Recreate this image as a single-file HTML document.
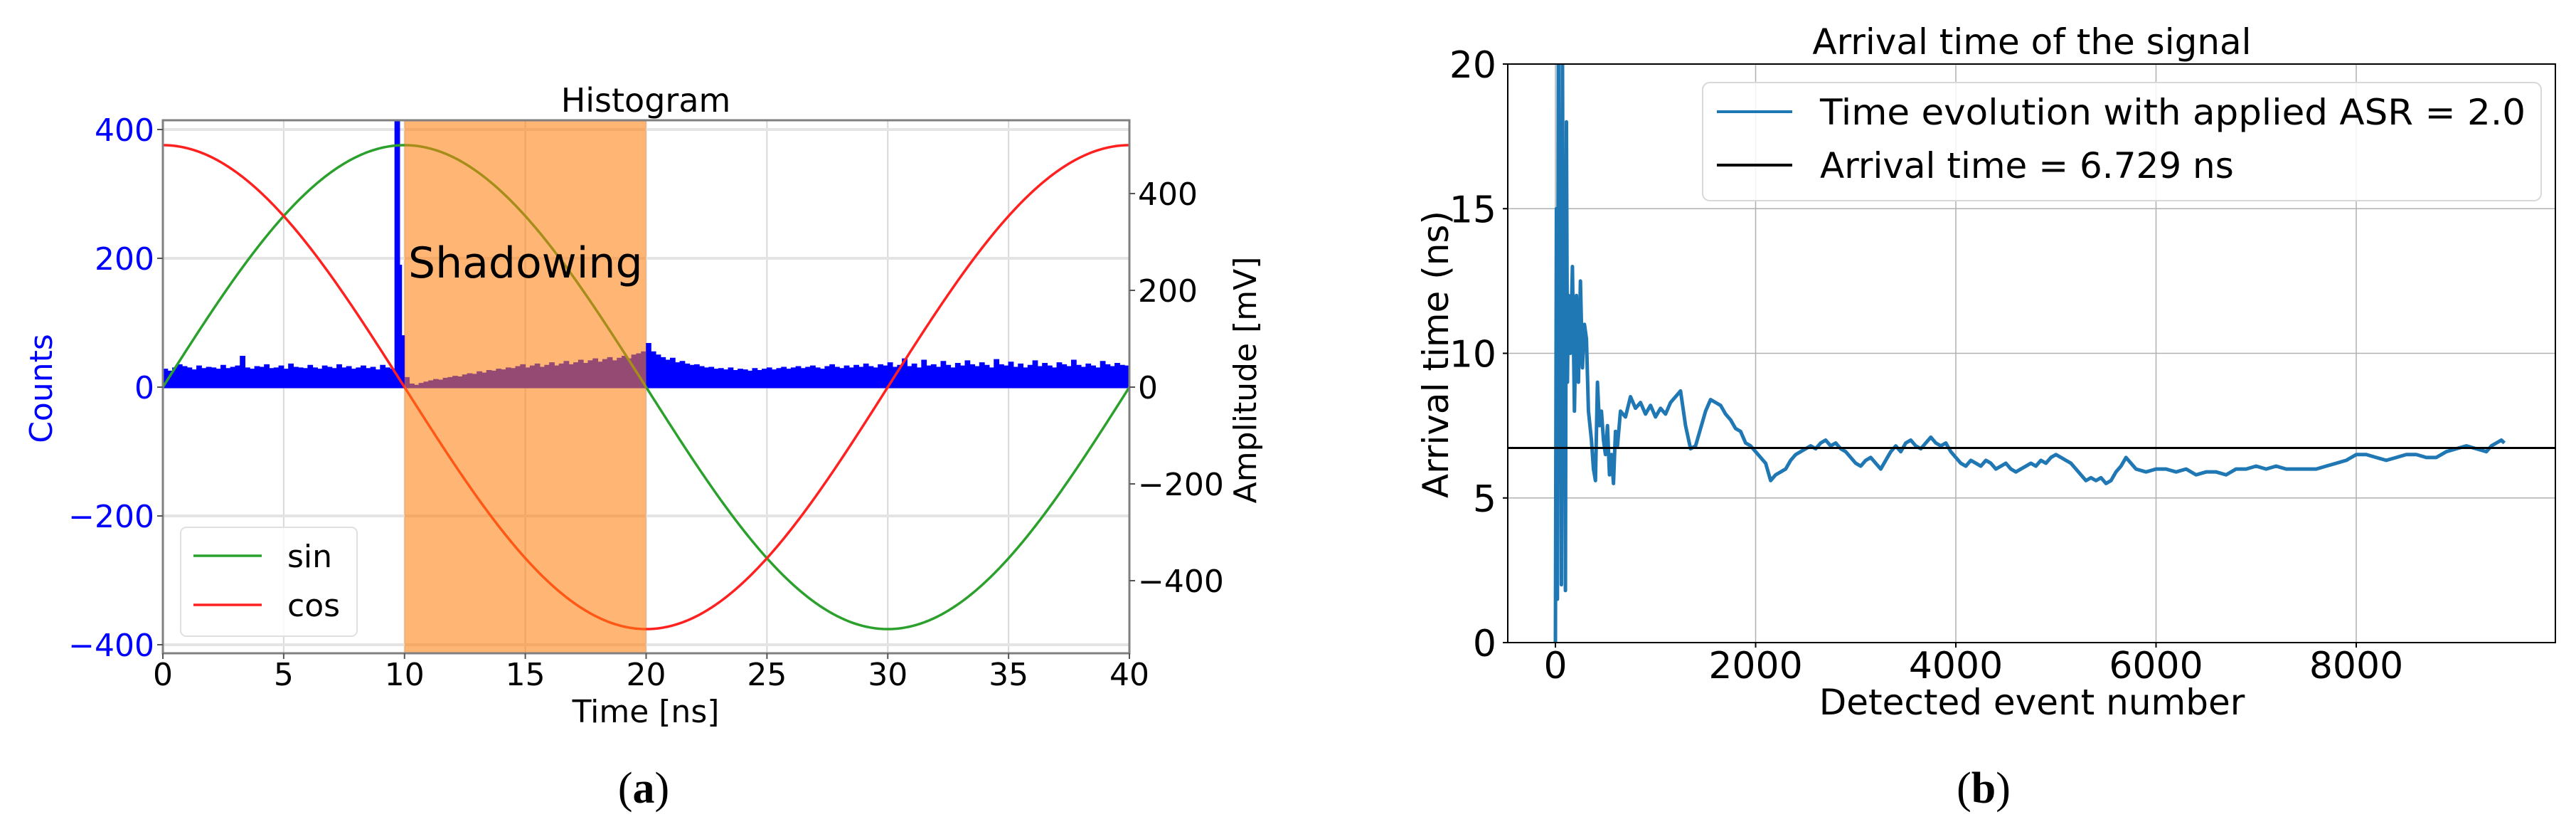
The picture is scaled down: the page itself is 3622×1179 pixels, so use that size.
<!DOCTYPE html>
<html><head><meta charset="utf-8">
<style>
html,body{margin:0;padding:0;background:#fff;}
svg{display:block;}
text{font-family:"DejaVu Sans","Liberation Sans",sans-serif;}
</style></head>
<body>
<svg id="fig" width="3622" height="1179" viewBox="0 0 3622 1179" xmlns="http://www.w3.org/2000/svg">
<defs>
<clipPath id="clipA"><rect x="229" y="169" width="1359" height="749"/></clipPath>
<clipPath id="clipB"><rect x="2120" y="90" width="1473" height="813"/></clipPath>
</defs>
<g id="panelA"></g>
<g id="panelB"></g>
</svg>
<script>
// ---- Panel (a) data ----
const histBinWidth = 0.2;
const histCounts = [28,25,30,35,32,30,27,33,29,31,
30,28,34,29,31,33,48,30,28,32,
31,35,29,30,33,28,36,31,30,29,
34,30,28,33,31,29,35,30,32,28,
30,33,29,31,27,34,30,28,420,80,
15,5,3,6,8,10,12,11,14,15,
17,16,19,21,20,24,22,26,25,28,
27,30,29,32,35,30,33,36,31,34,
38,33,36,40,35,38,42,37,41,44,
39,43,46,41,45,48,44,50,52,55,
68,55,50,46,42,45,38,40,36,34,
35,32,30,31,28,29,27,30,26,28,
27,25,29,26,28,30,27,29,31,28,
30,32,29,31,33,30,28,32,35,31,
29,33,30,34,31,36,32,30,35,33,
38,31,34,44,32,36,30,42,33,35,
31,40,34,30,37,33,41,35,32,38,
34,30,43,35,33,39,31,36,30,34,
41,32,37,33,30,38,35,32,42,34,
31,36,33,30,40,35,32,37,34,33];
const spikeTimes = [9.75];
const spikeCounts = [190];
const sineAmplitudeMv = [500];
const shadowRegion = [10, 20];
const xTicksA = [0,5,10,15,20,25,30,35,40];
const countTicks = [400,200,0,-200,-400];
const mvTicks = [400,200,0,-200,-400];

// ---- Panel (b) data ----
const eventNumbers = [0,10,20,30,40,50,60,70,80,90,100,110,120,130,150,170,190,210,230,250,270,290,310,330,360,380,400,420,440,460,480,500,520,540,560,580,600,620,650,700,750,800,850,900,950,1000,1050,1100,1150,1200,1250,1300,1350,1400,1450,1500,1550,1600,1650,1700,1750,1800,1850,1900,1950,2000,2050,2100,2150,2200,2250,2300,2350,2400,2450,2500,2550,2600,2650,2700,2750,2800,2850,2900,2950,3000,3050,3100,3150,3200,3250,3300,3350,3400,3450,3500,3550,3600,3650,3700,3750,3800,3850,3900,3950,4000,4050,4100,4150,4200,4250,4300,4350,4400,4450,4500,4550,4600,4650,4700,4750,4800,4850,4900,4950,5000,5050,5100,5150,5200,5250,5300,5350,5400,5450,5500,5550,5600,5650,5700,5750,5800,5900,6000,6100,6200,6300,6400,6500,6600,6700,6800,6900,7000,7100,7200,7300,7400,7500,7600,7700,7800,7900,8000,8100,8200,8300,8400,8500,8600,8700,8800,8900,9000,9100,9200,9300,9350,9400,9450,9480];
const arrivalTimes = [0,15,1.5,22,8,17,2,21,9,14,1.8,18,9,12,10,13,8,12,9,12.5,9.5,11,10.5,8,7,6,5.6,9,7.5,8,7,6.5,7.5,5.8,6.5,5.5,7.3,6.8,8,7.8,8.5,8.1,8.3,7.9,8.2,7.8,8.1,7.9,8.3,8.5,8.7,7.5,6.7,6.8,7.4,8.0,8.4,8.3,8.2,7.9,7.7,7.4,7.3,6.9,6.8,6.6,6.4,6.2,5.6,5.8,5.9,6.0,6.3,6.5,6.6,6.7,6.8,6.7,6.9,7.0,6.8,6.9,6.7,6.6,6.4,6.2,6.1,6.3,6.4,6.2,6.0,6.3,6.6,6.8,6.6,6.9,7.0,6.8,6.7,6.9,7.1,6.9,6.8,6.9,6.6,6.4,6.2,6.1,6.3,6.2,6.1,6.3,6.2,6.0,6.1,6.2,6.0,5.9,6.0,6.1,6.2,6.1,6.3,6.2,6.4,6.5,6.4,6.3,6.2,6.0,5.8,5.6,5.7,5.6,5.7,5.5,5.6,5.9,6.1,6.4,6.2,6.0,5.9,6.0,6.0,5.9,6.0,5.8,5.9,5.9,5.8,6.0,6.0,6.1,6.0,6.1,6.0,6.0,6.0,6.0,6.1,6.2,6.3,6.5,6.5,6.4,6.3,6.4,6.5,6.5,6.4,6.4,6.6,6.7,6.8,6.7,6.6,6.8,6.9,7.0,6.9];
const arrivalTimeMean = [6.729];
const xTicksB = [0,2000,4000,6000,8000];
const yTicksB = [0,5,10,15,20];

const NS = 'http://www.w3.org/2000/svg';
function mk(parent, tag, attrs, txt){
  const e = document.createElementNS(NS, tag);
  for (const k in attrs) e.setAttribute(k, attrs[k]);
  if (txt !== undefined) e.textContent = txt;
  parent.appendChild(e);
  return e;
}

// ===== Panel A =====
const A = document.getElementById('panelA');
const axL=229, axR=1588, axT=169, axB=918;
const xA = t => axL + (t-0)/(40-0)*(axR-axL);
const yC = c => 544 - c*0.905;
const yV = v => 544 - v*0.68;

// grid
for (const t of xTicksA){
  const g = mk(A,'line',{x1:xA(t),x2:xA(t),y1:axT,y2:axB,stroke:'#d8d8d8','stroke-width':2});
  
  
}
for (const c of countTicks){
  const g = mk(A,'line',{x1:axL,x2:axR,y1:yC(c),y2:yC(c),stroke:'#e4e4e4','stroke-width':4});
  
  
}
const gA = mk(A,'g',{'clip-path':'url(#clipA)'});


// histogram
let d = 'M'+xA(0)+','+yC(0);
histCounts.forEach((c,i)=>{
  const t0=i*histBinWidth, t1=(i+1)*histBinWidth;
  d += ' L'+xA(t0)+','+yC(c)+' L'+xA(t1)+','+yC(c);
});
d += ' L'+xA(histCounts.length*histBinWidth)+','+yC(0)+' Z';
const hist = mk(gA,'path',{d:d,fill:'#0000ff',stroke:'#0000ff','stroke-width':1});


spikeTimes.forEach((t,i)=>{
  const s = mk(gA,'rect',{x:xA(t),y:yC(spikeCounts[i]),width:5,height:yC(0)-yC(spikeCounts[i]),fill:'#0000ff'});
  
  
});
mk(gA,'line',{x1:axL,x2:axR,y1:yC(0),y2:yC(0),stroke:'#0000ff','stroke-width':3});
// sin cos
let ds='', dc='';
for (let i=0;i<=400;i++){
  const t=i*0.1, ph=2*Math.PI*t/40;
  ds += (i?'L':'M')+xA(t)+','+yV(sineAmplitudeMv[0]*Math.sin(ph))+' ';
  dc += (i?'L':'M')+xA(t)+','+yV(sineAmplitudeMv[0]*Math.cos(ph))+' ';
}
const sinL = mk(gA,'path',{d:ds,fill:'none',stroke:'#2ca02c','stroke-width':3.5});


const cosL = mk(gA,'path',{d:dc,fill:'none',stroke:'#ff2020','stroke-width':3.5});


// shadow
const sh = mk(A,'rect',{x:xA(shadowRegion[0]),y:axT,width:xA(shadowRegion[1])-xA(shadowRegion[0]),height:axB-axT,fill:'rgb(255,127,14)','fill-opacity':0.58});


const shT = mk(A,'text',{x:574,y:390,'font-size':60,fill:'#000'},'Shadowing');


// spines
const frA = mk(A,'rect',{x:axL,y:axT,width:axR-axL,height:axB-axT,fill:'none',stroke:'#808080','stroke-width':3});


// ticks
for (const t of xTicksA){
  mk(A,'line',{x1:xA(t),x2:xA(t),y1:axB,y2:axB+8,stroke:'#555','stroke-width':2});
  const l = mk(A,'text',{x:xA(t),y:963,'font-size':44,'text-anchor':'middle',fill:'#000'},String(t));
  
  
}
for (const c of countTicks){
  mk(A,'line',{x1:axL-8,x2:axL,y1:yC(c),y2:yC(c),stroke:'#555','stroke-width':2});
  const l = mk(A,'text',{x:217,y:yC(c)+16,'font-size':44,'text-anchor':'end',fill:'#0000ff'},String(c).replace('-','\u2212'));
  
  
}
for (const v of mvTicks){
  mk(A,'line',{x1:axR,x2:axR+8,y1:yV(v),y2:yV(v),stroke:'#555','stroke-width':2});
  const l = mk(A,'text',{x:1600,y:yV(v)+16,'font-size':44,'text-anchor':'start',fill:'#000'},String(v).replace('-','\u2212'));
  
  
}
const tA = mk(A,'text',{x:908,y:157,'font-size':46,'text-anchor':'middle'},'Histogram');


const xlA = mk(A,'text',{x:908,y:1015,'font-size':44,'text-anchor':'middle'},'Time [ns]');


const ylA = mk(A,'text',{x:0,y:0,'font-size':44,'text-anchor':'middle',fill:'#0000ff',transform:'translate(73,546) rotate(-90)'},'Counts');


const yrA = mk(A,'text',{x:0,y:0,'font-size':44,'text-anchor':'middle',fill:'#000',transform:'translate(1766,534) rotate(-90)'},'Amplitude [mV]');


// legend A
const lgA = mk(A,'g',{});


mk(lgA,'rect',{x:254,y:741,width:248,height:153,rx:8,fill:'#fff','fill-opacity':0.85,stroke:'#e0e0e0','stroke-width':2});
mk(lgA,'line',{x1:272,x2:368,y1:781,y2:781,stroke:'#2ca02c','stroke-width':3.5});
const ls = mk(lgA,'text',{x:404,y:797,'font-size':44},'sin');


mk(lgA,'line',{x1:272,x2:368,y1:850,y2:850,stroke:'#ff2020','stroke-width':3.5});
const lc = mk(lgA,'text',{x:404,y:866,'font-size':44},'cos');


const capA = mk(A,'text',{x:905,y:1128,'font-size':62,'text-anchor':'middle',style:'font-family:"Liberation Serif",serif'},'');


mk(capA,'tspan',{},'(');
mk(capA,'tspan',{'font-weight':'bold'},'a');
mk(capA,'tspan',{},')');

// ===== Panel B =====
const B = document.getElementById('panelB');
const bL=2120, bR=3593, bT=90, bB=903;
const xB = n => 2187 + n*(281.5/2000);
const yB = v => bB - v*(bB-bT)/20;
for (const n of xTicksB){
  const g = mk(B,'line',{x1:xB(n),x2:xB(n),y1:bT,y2:bB,stroke:'#b0b0b0','stroke-width':1.5});
  
  
}
for (const v of yTicksB){
  const g = mk(B,'line',{x1:bL,x2:bR,y1:yB(v),y2:yB(v),stroke:'#b0b0b0','stroke-width':1.5});
  
  
}
const gB = mk(B,'g',{'clip-path':'url(#clipB)'});
let dl='';
eventNumbers.forEach((n,i)=>{ dl += (i?'L':'M')+xB(n)+','+yB(arrivalTimes[i])+' '; });
const tl = mk(gB,'path',{d:dl,fill:'none',stroke:'#1f77b4','stroke-width':5,'stroke-linejoin':'round'});


const ml = mk(gB,'line',{x1:bL,x2:bR,y1:yB(arrivalTimeMean[0]),y2:yB(arrivalTimeMean[0]),stroke:'#000','stroke-width':3});


const frB = mk(B,'rect',{x:bL,y:bT,width:bR-bL,height:bB-bT,fill:'none',stroke:'#000','stroke-width':2});


for (const n of xTicksB){
  mk(B,'line',{x1:xB(n),x2:xB(n),y1:bB,y2:bB+7,stroke:'#000','stroke-width':2});
  const l = mk(B,'text',{x:xB(n),y:953,'font-size':52,'text-anchor':'middle'},String(n));
  
  
}
for (const v of yTicksB){
  mk(B,'line',{x1:bL-7,x2:bL,y1:yB(v),y2:yB(v),stroke:'#000','stroke-width':2});
  const l = mk(B,'text',{x:2104,y:yB(v)+19,'font-size':52,'text-anchor':'end'},String(v));
  
  
}
const tB = mk(B,'text',{x:2857,y:76,'font-size':50,'text-anchor':'middle'},'Arrival time of the signal');


const xlB = mk(B,'text',{x:2857,y:1004,'font-size':50,'text-anchor':'middle'},'Detected event number');


const ylB = mk(B,'text',{x:0,y:0,'font-size':50,'text-anchor':'middle',transform:'translate(2036,498) rotate(-90)'},'Arrival time (ns)');


const lgB = mk(B,'g',{});


mk(lgB,'rect',{x:2394,y:116,width:1179,height:166,rx:10,fill:'#fff','fill-opacity':0.85,stroke:'#d8d8d8','stroke-width':2});
mk(lgB,'line',{x1:2414,x2:2520,y1:157,y2:157,stroke:'#1f77b4','stroke-width':4});
const e1 = mk(lgB,'text',{x:2559,y:175,'font-size':50,textLength:992,lengthAdjust:'spacingAndGlyphs'},'Time evolution with applied ASR = 2.0');


mk(lgB,'line',{x1:2414,x2:2520,y1:232,y2:232,stroke:'#000','stroke-width':4});
const e2 = mk(lgB,'text',{x:2559,y:250,'font-size':50},'Arrival time = 6.729 ns');


const capB = mk(B,'text',{x:2789,y:1128,'font-size':62,'text-anchor':'middle',style:'font-family:"Liberation Serif",serif'},'');


mk(capB,'tspan',{},'(');
mk(capB,'tspan',{'font-weight':'bold'},'b');
mk(capB,'tspan',{},')');
</script>
</body></html>
